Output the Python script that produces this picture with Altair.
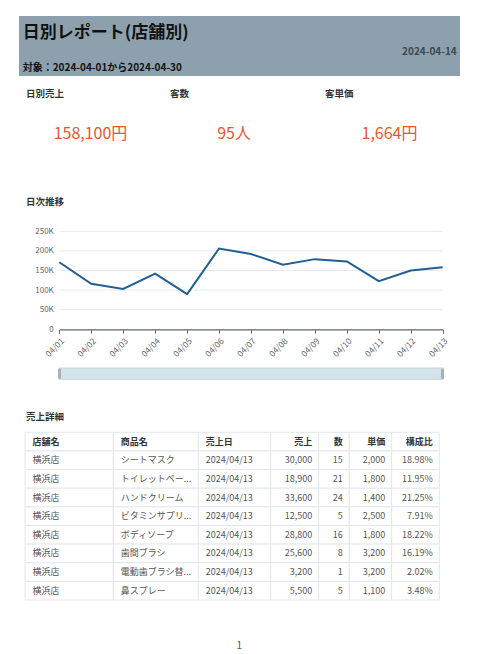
import altair as alt
import pandas as pd

# ---------------- data ----------------
report_title = "日別レポート(店舗別)"
report_date = "2024-04-14"
period_text = "対象：2024-04-01から2024-04-30"

kpi_labels = ["日別売上", "客数", "客単価"]
kpi_values = ["158,100円", "95人", "1,664円"]

trend_dates = ["04/01", "04/02", "04/03", "04/04", "04/05", "04/06", "04/07",
               "04/08", "04/09", "04/10", "04/11", "04/12", "04/13"]
trend_sales = [171000, 116000, 103000, 142000, 90000, 206000, 192000,
               165000, 179000, 173000, 123000, 150000, 158100]
y_ticks = [0, 50000, 100000, 150000, 200000, 250000]

table_header = ["店舗名", "商品名", "売上日", "売上", "数", "単価", "構成比"]
stores = ["横浜店"] * 8
products = ["シートマスク", "トイレットペー...", "ハンドクリーム", "ビタミンサプリ...",
            "ボディソープ", "歯間ブラシ", "電動歯ブラシ替...", "鼻スプレー"]
sale_dates = ["2024/04/13"] * 8
amounts = [30000, 18900, 33600, 12500, 28800, 25600, 3200, 5500]
quantities = [15, 21, 24, 5, 16, 8, 1, 5]
unit_prices = [2000, 1800, 1400, 2500, 1800, 3200, 3200, 1100]
ratios = ["18.98%", "11.95%", "21.25%", "7.91%", "18.22%", "16.19%", "2.02%", "3.48%"]

page_number = "1"

# ---------------- layout ----------------
W, H = 463, 646
FONT = "Noto Sans CJK JP"
X0, X1 = 51.3, 434.7          # line plot horizontal range
Y0, Y1 = 321.3, 223.3         # line plot vertical range (0 -> 250K)
col_edges = [17, 105.3, 190.3, 262.7, 310.7, 341.3, 383.7, 431.3]
col_align = ["left", "left", "left", "right", "right", "right", "right"]
T0, T1 = 424.3, 592.0         # table top / bottom
AXIS_GRAY = "#62676f"

one = pd.DataFrame({"a": [0]})


def txt(text, x, y, size=10, weight="bold", color="#333333", align="left", baseline="middle"):
    return alt.Chart(pd.DataFrame({"t": [text]})).mark_text(
        align=align, baseline=baseline, fontSize=size, fontWeight=weight,
        color=color, font=FONT
    ).encode(x=alt.value(x), y=alt.value(y), text="t:N")


def box(x, x2, y, y2, fill, stroke=None, radius=0):
    kw = dict(fill=fill, cornerRadius=radius)
    if stroke:
        kw.update(stroke=stroke, strokeWidth=1)
    return alt.Chart(one).mark_rect(**kw).encode(
        x=alt.value(x), x2=alt.value(x2), y=alt.value(y), y2=alt.value(y2))


layers = []

# header band
layers.append(box(11, 452, 8, 68, "#8ca1ad"))
layers.append(txt(report_title, 14.7, 24.5, size=17, color="#111111"))
layers.append(txt(report_date, 448.7, 44, size=10, color="#3d4852", align="right"))
layers.append(txt(period_text, 14.7, 59.7, size=10, color="#111111"))

# KPI row
kpi_label_x = [18, 162, 317]
kpi_value_x = [82.5, 226, 381.5]
for lab, val, lx, vx in zip(kpi_labels, kpi_values, kpi_label_x, kpi_value_x):
    layers.append(txt(lab, lx, 86, size=9.5, color="#333333"))
    layers.append(txt(val, vx, 126.3, size=16, weight="normal", color="#e8582c", align="center"))

# section titles
layers.append(txt("日次推移", 18, 193.7, size=9.5, color="#333333"))
layers.append(txt("売上詳細", 18, 408.7, size=9.5, color="#333333"))

# line chart
x_scale = alt.Scale(type="point", domain=trend_dates, range=[X0, X1], padding=0)
y_scale = alt.Scale(domain=[0, 250000], range=[Y0, Y1], nice=False, zero=True)

grid_df = pd.DataFrame({"v": y_ticks[1:]})
layers.append(
    alt.Chart(grid_df).mark_rule(color="#e6eaf0", strokeWidth=1).encode(
        y=alt.Y("v:Q", scale=y_scale, axis=None),
        x=alt.value(X0), x2=alt.value(X1))
)

line_df = pd.DataFrame({"date": trend_dates, "sales": trend_sales})
layers.append(
    alt.Chart(line_df).mark_line(color="#215f92", strokeWidth=2).encode(
        x=alt.X("date:O", scale=x_scale, sort=trend_dates,
                axis=alt.Axis(orient="bottom", offset=Y0 - H, title=None,
                              labelAngle=-45, labelAlign="right", labelBaseline="top",
                              labelFontSize=8.5, labelColor=AXIS_GRAY, labelFont=FONT,
                              labelPadding=3, ticks=True, tickSize=4, tickColor=AXIS_GRAY,
                              labels=True, domain=True,
                              domainColor=AXIS_GRAY, domainWidth=1.2, grid=False)),
        y=alt.Y("sales:Q", scale=y_scale,
                axis=alt.Axis(orient="left", offset=-X0, title=None, values=y_ticks,
                              labelExpr="datum.value == 0 ? '0' : (datum.value / 1000) + 'K'",
                              labelFontSize=8, labelColor=AXIS_GRAY, labelFont=FONT,
                              labels=True, domain=False, ticks=False, tickSize=0,
                              labelPadding=6, grid=False)),
    )
)

# slider (data zoom)
layers.append(box(51.3, 435.3, 360, 371.3, "#d3e3ea", stroke="#c6d6de"))
layers.append(box(50, 53, 360.5, 371, "#a9b1b8", radius=1.5))
layers.append(box(433, 436, 360.5, 371, "#a9b1b8", radius=1.5))

# table
rows = [table_header]
for i in range(len(stores)):
    rows.append([stores[i], products[i], sale_dates[i], f"{amounts[i]:,}",
                 str(quantities[i]), f"{unit_prices[i]:,}", ratios[i]])

cell_recs, text_recs = [], []
for r, row in enumerate(rows):
    for c, val in enumerate(row):
        cell_recs.append({"row": r, "x0": col_edges[c], "x1": col_edges[c + 1]})
        tx = col_edges[c] + 7.5 if col_align[c] == "left" else col_edges[c + 1] - 6.5
        text_recs.append({"row": r, "tx": tx, "t": val, "align": col_align[c],
                          "head": r == 0})
cells = pd.DataFrame(cell_recs)
texts = pd.DataFrame(text_recs)

band_y = alt.Scale(type="band", domain=list(range(len(rows))), range=[T0, T1],
                   paddingInner=0, paddingOuter=0)
point_y = alt.Scale(type="point", domain=list(range(len(rows))), range=[T0, T1],
                    padding=0.5)

layers.append(
    alt.Chart(cells).mark_rect(fill="white", stroke="#e3e7eb", strokeWidth=1).encode(
        x=alt.X("x0:Q", scale=None, axis=None), x2="x1:Q",
        y=alt.Y("row:O", scale=band_y, axis=None))
)
for head in (True, False):
    for al in ("left", "right"):
        sub = texts[(texts["head"] == head) & (texts["align"] == al)]
        layers.append(
            alt.Chart(sub).mark_text(
                align=al, baseline="middle", fontSize=9, font=FONT,
                fontWeight="bold" if head else "normal",
                color="#333333" if head else "#555555"
            ).encode(
                x=alt.X("tx:Q", scale=None, axis=None),
                y=alt.Y("row:O", scale=point_y, axis=None),
                text="t:N")
        )

# page number
layers.append(txt(page_number, 231.3, 638, size=10, weight="normal", color="#555555",
                  align="center"))

chart = alt.layer(*layers).resolve_scale(
    x="independent", y="independent"
).properties(
    width=W, height=H, padding=0,
    autosize=alt.AutoSizeParams(type="none")
).configure(
    font=FONT
).configure_view(
    strokeWidth=0, stroke="transparent"
).configure_axis(
    domain=False, ticks=False, grid=False, labels=False
)

chart.save("out.html", embed_options={"renderer": "svg", "actions": False})
